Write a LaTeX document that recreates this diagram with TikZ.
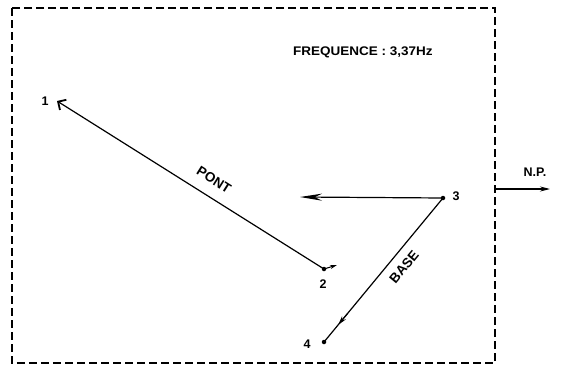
\documentclass[tikz,border=0pt]{standalone}
\usepackage{fontspec}
\setmainfont{Liberation Sans}
\usetikzlibrary{arrows.meta,calc}
\begin{document}
\begin{tikzpicture}[x=1pt,y=-1pt,
  lbl/.style={font=\fontsize{12.5}{14}\selectfont, inner sep=0pt},
  rlbl/.style={font=\fontsize{13.5}{15}\selectfont, inner sep=0pt},
  dotn/.style={circle, fill=black, inner sep=0pt, minimum size=4.5pt},
  ln/.style={line width=1.2pt},
  frame/.style={line width=1.1pt, dash pattern=on 8pt off 4pt}]
\useasboundingbox (0,0) rectangle (563,367);
\fill[white] (0,0) rectangle (563,367);
% frame
\draw[frame] (12,8) rectangle (495,363);
% points
\coordinate (p1) at (57,101);
\node[dotn] (p2) at (324,269) {};
\node[dotn] (p3) at (443,198) {};
\node[dotn] (p4) at (324,342) {};
\coordinate (a3) at (300,197);
\coordinate (a2) at (337,265);
\coordinate (np0) at (495,189);
\coordinate (np1) at (550,189);
% PONT line
\draw[ln, -{Straight Barb[length=6pt,width=12pt,line width=1.8pt]}] (p2.center) -- (p1);
\draw[line width=1pt, -{Stealth[length=7pt,width=4pt]}] (p2.center) -- (a2);
% arrow from 3
\draw[ln, -{Stealth[length=22pt,width=7pt]}] (p3.center) -- (a3);
% BASE line
\draw[ln] (p3.center) -- (p4.center);
\draw[line width=1pt, -{Stealth[length=9pt,width=5pt]}] ($(p3.center)!0.80!(p4.center)$) -- ($(p3.center)!0.88!(p4.center)$);
% N.P. arrow
\draw[ln, -{Stealth[length=10pt,width=5pt]}] (np0) -- (np1);
% labels
\node[lbl] (l1) at (45,101) {\textbf{1}};
\node[lbl] (l2) at (323,284) {\textbf{2}};
\node[lbl] (l3) at (456,196) {\textbf{3}};
\node[lbl] (l4) at (307,344) {\textbf{4}};
\node[lbl] (np) at (535,172) {\textbf{N.P.}};
\node[lbl] (freq) at (363,52) {\scalebox{1.08}[1]{\textbf{FREQUENCE : 3,37Hz}}};
\node[rlbl, rotate=-32.2] (pont) at (214,180) {\textbf{PONT}};
\node[rlbl, rotate=50.4] (base) at (404,267) {\textbf{BASE}};
\end{tikzpicture}
\end{document}
